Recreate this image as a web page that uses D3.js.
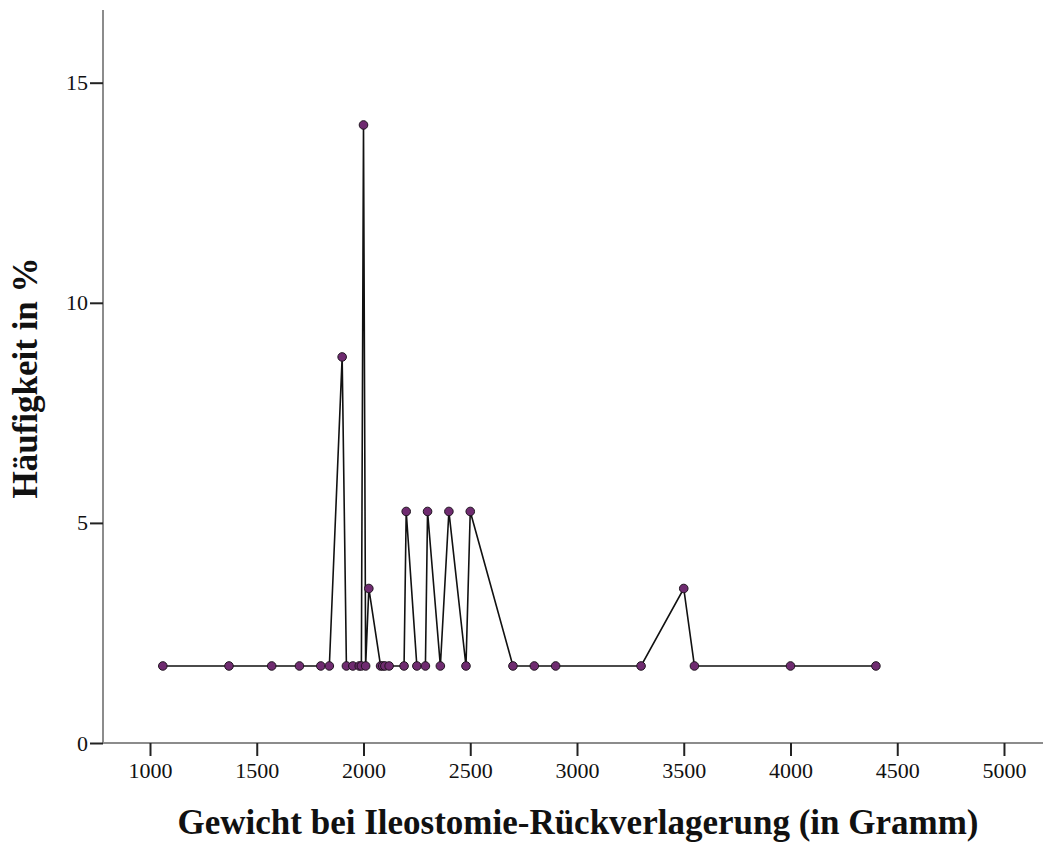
<!DOCTYPE html>
<html>
<head>
<meta charset="utf-8">
<script src="https://cdn.jsdelivr.net/npm/d3@7"></script>
<style>
  html, body { margin: 0; padding: 0; background: #fff; }
  svg { display: block; }
</style>
</head>
<body>
<svg id="chart" width="1043" height="843"></svg>
<script>
// Weight at ileostomy reversal (g)
const weights = [1060, 1370, 1570, 1700, 1800, 1840, 1900, 1920, 1950, 1980, 1990, 2000, 2010, 2025,
                 2080, 2090, 2100, 2120, 2190, 2200, 2250, 2290, 2300, 2360, 2400, 2480, 2500,
                 2700, 2800, 2900, 3300, 3500, 3550, 4000, 4400];
// Frequency in %
const percents = [1.75, 1.75, 1.75, 1.75, 1.75, 1.75, 8.77, 1.75, 1.75, 1.75, 1.75, 14.04, 1.75, 3.51,
                  1.75, 1.75, 1.75, 1.75, 1.75, 5.26, 1.75, 1.75, 5.26, 1.75, 5.26, 1.75, 5.26,
                  1.75, 1.75, 1.75, 1.75, 3.51, 1.75, 1.75, 1.75];
const xTicks = [1000, 1500, 2000, 2500, 3000, 3500, 4000, 4500, 5000];
const yTicks = [0, 5, 10, 15];

const svg = d3.select("#chart");
const x = d3.scaleLinear().domain([1000, 5000]).range([150, 1004]);
const y = d3.scaleLinear().domain([0, 15]).range([743, 82.7]);
const xMin = x.invert(103), xMax = x.invert(1043), yMax = y.invert(10);

const data = weights.map((w, i) => ({ w, p: percents[i] }));

// axis lines (gray)
svg.append("line").attr("x1", x(xMin)).attr("x2", x(xMax)).attr("y1", y(0)).attr("y2", y(0))
  .attr("stroke", "#8c8c8c").attr("stroke-width", 2);
svg.append("line").attr("x1", x(xMin)).attr("x2", x(xMin)).attr("y1", y(0)).attr("y2", y(yMax))
  .attr("stroke", "#8c8c8c").attr("stroke-width", 2);

const serif = "'Liberation Serif', 'Times New Roman', serif";

// x axis
const xAxis = svg.append("g").attr("transform", `translate(0,${y(0)})`)
  .call(d3.axisBottom(x).tickValues(xTicks).tickSize(13).tickPadding(6).tickFormat(d3.format("d")));
xAxis.select(".domain").remove();
xAxis.selectAll(".tick line").attr("stroke", "#222").attr("stroke-width", 2);
xAxis.selectAll(".tick text").attr("font-family", serif).attr("font-size", 22).attr("fill", "#111");

// y axis
const yAxis = svg.append("g").attr("transform", `translate(${x(xMin)},0)`)
  .call(d3.axisLeft(y).tickValues(yTicks).tickSize(13).tickPadding(2).tickFormat(d3.format("d")));
yAxis.select(".domain").remove();
yAxis.selectAll(".tick line").attr("stroke", "#222").attr("stroke-width", 2);
yAxis.selectAll(".tick text").attr("font-family", serif).attr("font-size", 22).attr("fill", "#111");

// line
const line = d3.line().x(d => x(d.w)).y(d => y(d.p));
svg.append("path").datum(data).attr("d", line)
  .attr("fill", "none").attr("stroke", "#111").attr("stroke-width", 1.6).attr("stroke-linejoin", "miter");

// points
svg.append("g").selectAll("circle").data(data).join("circle")
  .attr("cx", d => x(d.w)).attr("cy", d => y(d.p)).attr("r", 4.3)
  .attr("fill", "#6f2b70").attr("stroke", "#1e141e").attr("stroke-width", 1);

// titles
svg.append("text").attr("x", 578).attr("y", 834).attr("text-anchor", "middle")
  .attr("font-family", serif).attr("font-weight", "bold")
  .attr("font-size", 35).attr("fill", "#111")
  .text("Gewicht bei Ileostomie-Rückverlagerung (in Gramm)");
svg.append("text").attr("transform", "translate(37,378) rotate(-90)").attr("text-anchor", "middle")
  .attr("font-family", serif).attr("font-weight", "bold")
  .attr("font-size", 35).attr("fill", "#111")
  .text("Häufigkeit in %");
</script>
</body>
</html>
